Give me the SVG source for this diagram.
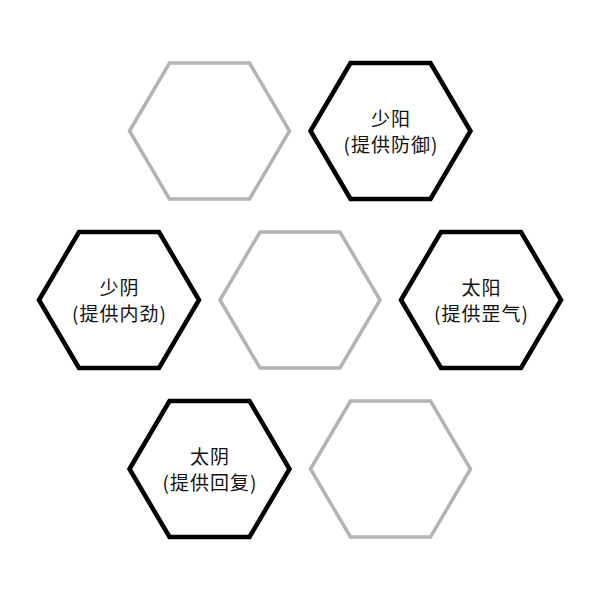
<svg xmlns="http://www.w3.org/2000/svg" width="600" height="600" viewBox="0 0 600 600">
<style>
.hex{fill:#ffffff;stroke-linejoin:miter}
.on{stroke:#000000;stroke-width:4.5}
.off{stroke:#b3b3b3;stroke-width:3.5}
.t{font-family:"Noto Sans CJK SC","Noto Sans",sans-serif;font-size:19px;fill:#111111;text-anchor:middle;letter-spacing:1px}
</style>
<defs>
<polygon id="hx" points="-80,0 -40,-68 40,-68 80,0 40,68 -40,68"/>
</defs>
<rect width="600" height="600" fill="#ffffff"/>
<g id="connectors"></g>
<g id="hex-top-left" transform="translate(209.5,131)"><use href="#hx" class="hex off"/></g>
<g id="hex-shaoyang" transform="translate(390.5,131)"><use href="#hx" class="hex on"/>
<text class="t" x="0.5" y="-5">少阳</text><text class="t" x="0.5" y="21">(提供防御)</text></g>
<g id="hex-shaoyin" transform="translate(119,300)"><use href="#hx" class="hex on"/>
<text class="t" x="0.5" y="-5">少阴</text><text class="t" x="0.5" y="21">(提供内劲)</text></g>
<g id="hex-center" transform="translate(300,300)"><use href="#hx" class="hex off"/></g>
<g id="hex-taiyang" transform="translate(481,300)"><use href="#hx" class="hex on"/>
<text class="t" x="0.5" y="-5">太阳</text><text class="t" x="0.5" y="21">(提供罡气)</text></g>
<g id="hex-taiyin" transform="translate(209.5,469)"><use href="#hx" class="hex on"/>
<text class="t" x="0.5" y="-5">太阴</text><text class="t" x="0.5" y="21">(提供回复)</text></g>
<g id="hex-bottom-right" transform="translate(390.5,469)"><use href="#hx" class="hex off"/></g>
</svg>
